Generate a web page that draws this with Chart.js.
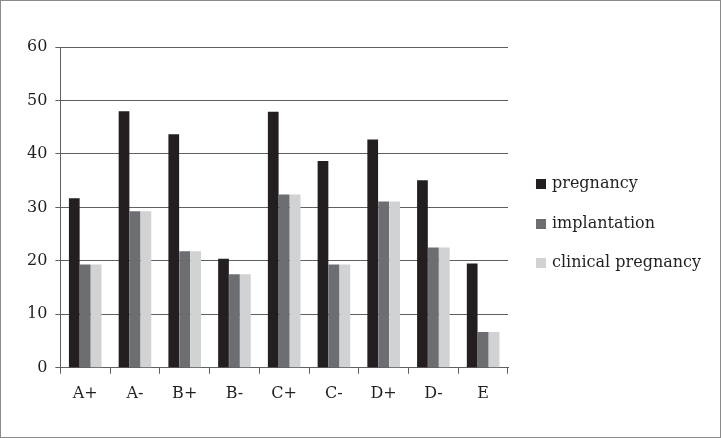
<!DOCTYPE html>
<html>
<head>
<meta charset="utf-8">
<script src="https://cdn.jsdelivr.net/npm/chart.js@4/dist/chart.umd.min.js"></script>
<style>
  html, body { margin: 0; padding: 0; background: #fff; }
  #wrap { position: relative; width: 719px; height: 436px; border: 1px solid #8a8a8a; }
  #legend { position: absolute; left: 535px; top: 172px; font: 16px 'DejaVu Serif', serif; color: #231f20; }
  #legend .item { height: 20px; line-height: 20px; margin-bottom: 19.5px; white-space: nowrap; }
  #legend .box { display: inline-block; width: 10px; height: 10px; margin-right: 6px; vertical-align: -1px; }
</style>
</head>
<body>
<div id="wrap"><canvas id="chart" width="719" height="436"></canvas><div id="legend"></div></div>
<script>
const groups = ['A+', 'A-', 'B+', 'B-', 'C+', 'C-', 'D+', 'D-', 'E'];
const pregnancy = [31.7, 48.0, 43.7, 20.4, 47.9, 38.7, 42.7, 35.1, 19.5];
const implantation = [19.3, 29.3, 21.8, 17.5, 32.4, 19.3, 31.1, 22.5, 6.7];
const clinicalPregnancy = [19.3, 29.3, 21.8, 17.5, 32.4, 19.3, 31.1, 22.5, 6.7];
const yTicks = [0, 10, 20, 30, 40, 50, 60];

const font = { family: "'DejaVu Serif', serif", size: 16 };

const chart = new Chart(document.getElementById('chart').getContext('2d'), {
    type: 'bar',
    data: {
        labels: groups,
        datasets: [
            { label: 'pregnancy', data: pregnancy, backgroundColor: '#231f20' },
            { label: 'implantation', data: implantation, backgroundColor: '#6d6e71' },
            { label: 'clinical pregnancy', data: clinicalPregnancy, backgroundColor: '#d1d2d4' }
        ]
    },
    options: {
        responsive: false,
        animation: false,
        layout: { padding: { top: 46, bottom: 24, left: 18, right: 212 } },
        datasets: { bar: { categoryPercentage: 0.66, barPercentage: 0.98 } },
        plugins: {
            tooltip: { enabled: false },
            legend: { display: false }
        },
        scales: {
            x: {
                grid: { offset: true, drawOnChartArea: false, tickLength: 6, color: '#5f6063' },
                border: { color: '#5f6063' },
                ticks: { color: '#231f20', font: font, padding: 10 }
            },
            y: {
                min: 0,
                max: 60,
                afterBuildTicks: axis => { axis.ticks = yTicks.map(v => ({ value: v })); },
                grid: { color: '#5f6063', tickLength: 5 },
                border: { color: '#5f6063' },
                ticks: { color: '#231f20', font: font, padding: 8 }
            }
        }
    }
});

// legend built from the chart's datasets
const legend = document.getElementById('legend');
chart.data.datasets.forEach(ds => {
    const item = document.createElement('div');
    item.className = 'item';
    item.innerHTML = `<span class="box" style="background:${ds.backgroundColor}"></span>${ds.label}`;
    legend.appendChild(item);
});
</script>
</body>
</html>
